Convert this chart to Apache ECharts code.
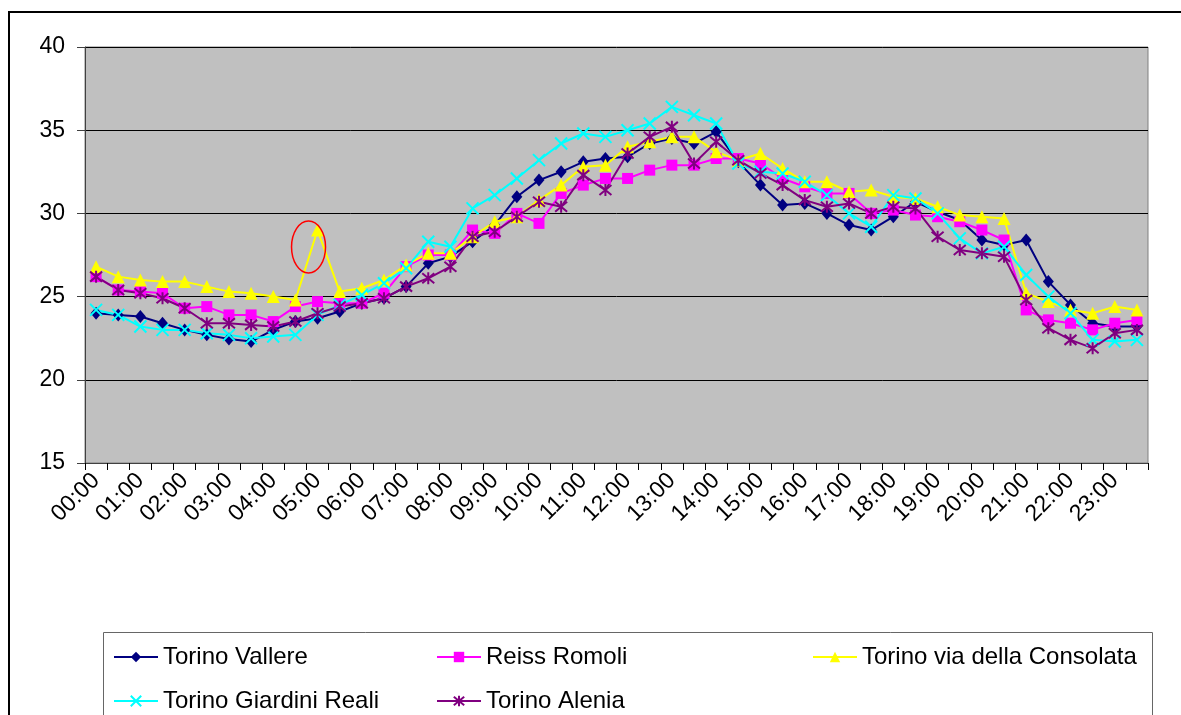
<!DOCTYPE html>
<html>
<head>
<meta charset="utf-8">
<script src="https://cdn.jsdelivr.net/npm/echarts@6/dist/echarts.min.js"></script>
<style>
html,body{margin:0;padding:0;background:#fff;}
#chart{width:1181px;height:715px;}
</style>
</head>
<body>
<div id="chart"></div>
<script>
const categories = ["00:00","00:30","01:00","01:30","02:00","02:30","03:00","03:30","04:00","04:30","05:00","05:30",
  "06:00","06:30","07:00","07:30","08:00","08:30","09:00","09:30","10:00","10:30","11:00","11:30",
  "12:00","12:30","13:00","13:30","14:00","14:30","15:00","15:30","16:00","16:30","17:00","17:30",
  "18:00","18:30","19:00","19:30","20:00","20:30","21:00","21:30","22:00","22:30","23:00","23:30"];

const seriesNames = ["Torino Vallere","Reiss Romoli","Torino via della Consolata","Torino Giardini Reali","Torino Alenia"];

const torinoVallere = [24.0,23.9,23.8,23.4,23.0,22.7,22.45,22.3,23.0,23.5,23.7,24.1,
  24.6,24.9,25.6,27.0,27.4,28.3,29.3,31.0,32.0,32.5,33.1,33.3,
  33.4,34.2,34.5,34.2,34.9,33.1,31.7,30.5,30.6,30.0,29.3,29.0,
  29.8,30.7,30.1,29.6,28.4,28.1,28.4,25.9,24.5,23.4,23.2,23.2];

const reissRomoli = [26.2,25.4,25.3,25.2,24.3,24.4,23.9,23.9,23.5,24.4,24.7,24.6,
  24.6,25.2,26.8,27.5,27.5,29.0,28.8,30.0,29.4,31.2,31.7,32.1,
  32.1,32.6,32.9,32.9,33.3,33.3,33.0,32.1,31.6,31.2,31.2,30.0,
  30.2,29.9,29.8,29.5,29.0,28.4,24.2,23.6,23.4,23.0,23.4,23.6];

const viaConsolata = [26.8,26.2,26.0,25.9,25.9,25.6,25.3,25.2,25.0,24.8,29.0,25.3,
  25.5,26.0,26.9,27.6,27.6,28.6,29.5,29.8,30.8,31.7,32.8,32.9,
  34.0,34.3,34.6,34.6,33.7,33.2,33.6,32.7,31.9,31.9,31.3,31.4,
  31.0,30.9,30.4,29.9,29.8,29.7,25.2,24.7,24.2,24.0,24.4,24.2];

const giardiniReali = [24.2,23.9,23.2,23.0,23.0,22.8,22.7,22.5,22.6,22.7,23.9,24.5,
  25.1,25.8,26.7,28.3,28.0,30.3,31.1,32.1,33.2,34.2,34.8,34.6,
  35.0,35.4,36.4,35.9,35.4,33.0,32.5,32.4,31.9,31.1,30.0,29.2,
  31.1,30.9,30.0,28.5,27.6,28.0,26.3,25.0,24.0,22.4,22.3,22.4];

const torinoAlenia = [26.2,25.4,25.2,24.9,24.3,23.4,23.4,23.3,23.2,23.5,24.0,24.4,
  24.6,24.9,25.6,26.1,26.8,28.6,28.9,29.8,30.7,30.4,32.3,31.4,
  33.6,34.6,35.2,33.0,34.3,33.2,32.4,31.7,30.8,30.4,30.6,30.0,
  30.4,30.3,28.6,27.8,27.6,27.4,24.8,23.1,22.4,21.9,22.8,23.0];

const yTicks = [15, 20, 25, 30, 35, 40];

const FONT = '"Liberation Sans", Arial, sans-serif';
const chart = echarts.init(document.getElementById('chart'), null, {renderer: 'canvas'});

const colors = ['#000080', '#FF00FF', '#FFFF00', '#00FFFF', '#800080'];
const symbols = ['diamond', 'rect', 'triangle', 'path://M0 0L10 10M10 0L0 10', 'path://M0 0L10 10M10 0L0 10M5 -1L5 11'];
const symbolSizes = [[11, 13], 11, 13, 12, 12];
const dataSets = [torinoVallere, reissRomoli, viaConsolata, giardiniReali, torinoAlenia];

const series = seriesNames.map((name, i) => ({
  name: name,
  type: 'line',
  data: dataSets[i],
  symbol: symbols[i],
  symbolSize: symbolSizes[i],
  showAllSymbol: true,
  lineStyle: {color: colors[i], width: 2},
  itemStyle: {color: colors[i], borderColor: colors[i], borderWidth: (i >= 3 ? 2 : 0)},
  emphasis: {disabled: true},
  animation: false
}));

function legendCol(names, left) {
  return {
    data: names,
    orient: 'vertical',
    left: left,
    top: 645,
    padding: 0,
    itemGap: 20,
    itemWidth: 44,
    itemHeight: 13,
    textStyle: {fontFamily: FONT, fontSize: 24, color: '#000', lineHeight: 24},
    selectedMode: false
  };
}

const option = {
  animation: false,
  backgroundColor: '#fff',
  color: colors,
  grid: {
    left: 85, right: 33, top: 47, bottom: 252,
    show: true, backgroundColor: '#C0C0C0', borderColor: '#808080', borderWidth: 1,
    containLabel: false
  },
  legend: [
    legendCol([seriesNames[0], seriesNames[3]], 113),
    legendCol([seriesNames[1], seriesNames[4]], 436),
    legendCol([seriesNames[2]], 812)
  ],
  xAxis: {
    type: 'category',
    data: categories,
    boundaryGap: true,
    axisLine: {show: true, lineStyle: {color: '#404040', width: 1}},
    axisTick: {show: true, interval: 0, length: 7, lineStyle: {color: '#000'}},
    axisLabel: {interval: 1, rotate: 45, margin: 14, fontFamily: FONT, fontSize: 23, color: '#000'},
    splitLine: {show: false}
  },
  yAxis: {
    type: 'value',
    min: yTicks[0], max: yTicks[yTicks.length - 1], interval: 5,
    axisLine: {show: true, lineStyle: {color: '#404040', width: 1}},
    axisTick: {show: true, length: 8, lineStyle: {color: '#404040'}},
    axisLabel: {margin: 20, fontFamily: FONT, fontSize: 23, color: '#000'},
    splitLine: {show: true, lineStyle: {color: '#000', width: 1}}
  },
  series: series
};

chart.setOption(option);

// annotation: red ellipse around the 05:00 spike of "Torino via della Consolata"
const spikeIdx = 10;
const p = chart.convertToPixel({seriesIndex: 2}, [spikeIdx, viaConsolata[spikeIdx]]);
chart.setOption({
  graphic: [
    {type: 'rect', z: -10, silent: true, shape: {x: 9, y: 12, width: 1200, height: 800},
     style: {fill: 'none', stroke: '#000', lineWidth: 2}},
    {type: 'rect', z: -10, silent: true, shape: {x: 103.5, y: 632.5, width: 1049, height: 120},
     style: {fill: 'none', stroke: '#666', lineWidth: 1}},
    {type: 'ellipse', z: 100, silent: true, shape: {cx: p[0] - 9, cy: p[1] + 17, rx: 17, ry: 26},
     style: {fill: 'none', stroke: '#FF0000', lineWidth: 1.5}}
  ]
});
</script>
</body>
</html>
